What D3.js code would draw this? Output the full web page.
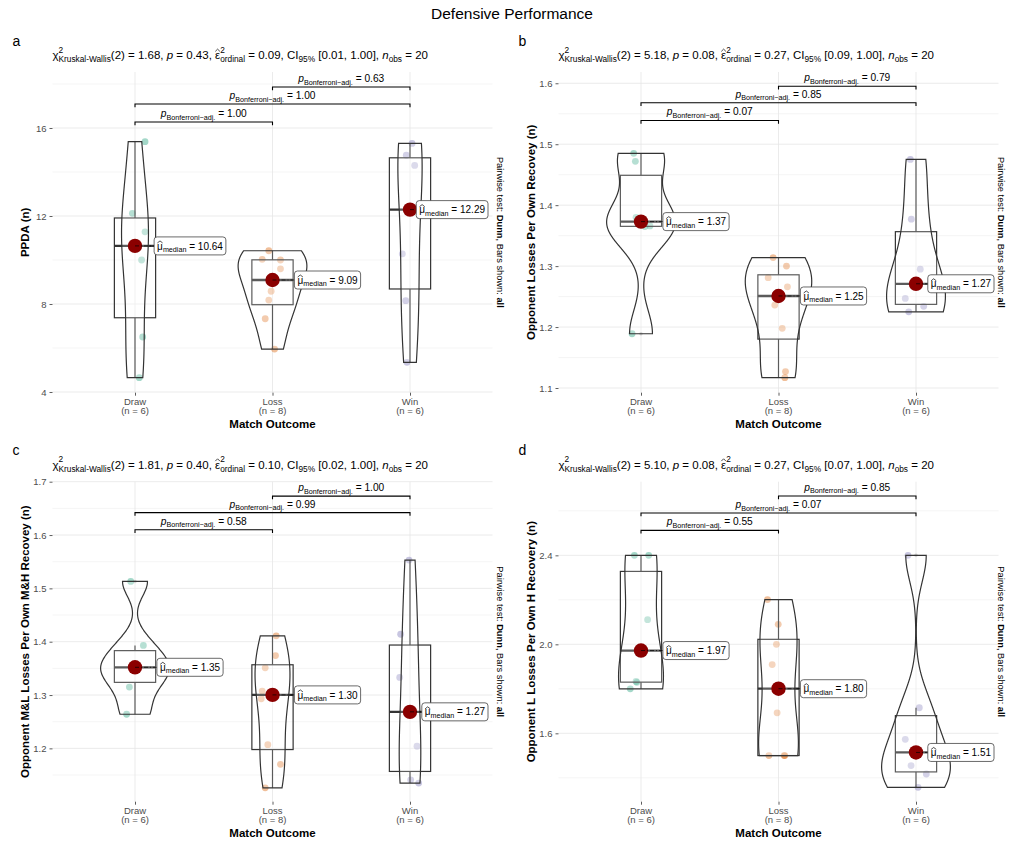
<!DOCTYPE html>
<html>
<head>
<meta charset="utf-8">
<script src="https://cdn.jsdelivr.net/npm/d3@7"></script>
<style>
  body { margin: 0; background: #fff; }
  svg { display: block; }
  text { white-space: pre; }
</style>
</head>
<body>
<svg id="chart" width="1024" height="853"></svg>
<script>
// categories and group values
const categories = ['Draw', 'Loss', 'Win'];

const ppdaDraw = [15.38, 12.12, 11.28, 10.00, 6.50, 4.65];
const ppdaLoss = [10.42, 10.03, 10.00, 9.60, 8.58, 8.18, 7.33, 5.95];
const ppdaWin = [15.30, 14.76, 14.30, 10.28, 8.15, 5.35];

const recDraw = [1.485, 1.472, 1.380, 1.366, 1.365, 1.189];
const recLoss = [1.314, 1.300, 1.281, 1.266, 1.236, 1.198, 1.127, 1.117];
const recWin = [1.475, 1.377, 1.295, 1.247, 1.234, 1.225];

const mlDraw = [1.513, 1.393, 1.354, 1.350, 1.315, 1.264];
const mlLoss = [1.411, 1.374, 1.351, 1.3075, 1.293, 1.207, 1.170, 1.126];
const mlWin = [1.553, 1.414, 1.333, 1.204, 1.141, 1.135];

const lDraw = [2.40, 2.40, 2.111, 1.833, 1.829, 1.800];
const lLoss = [2.201, 2.09, 2.00, 1.909, 1.692, 1.50, 1.50, 1.50];
const lWin = [2.40, 1.715, 1.573, 1.455, 1.417, 1.357];

// jitter of each point, in category steps (same order as the values)
const jitA = [[0.073, -0.019, 0.073, 0.048, 0.056, 0.031],
              [-0.027, -0.075, 0.058, 0.058, -0.01, -0.027, -0.053, 0.015],
              [0.015, -0.027, 0.034, -0.056, -0.031, -0.022]];
const jitB = [[-0.053, -0.041, -0.036, 0.065, 0.029, -0.065],
              [-0.039, 0.058, -0.075, 0.065, -0.027, 0.027, 0.051, 0.046],
              [-0.041, -0.034, 0.031, -0.078, 0.056, -0.053]];
const jitC = [[-0.031, 0.061, 0.022, -0.015, -0.041, -0.061],
              [0.027, 0.022, -0.053, -0.075, -0.082, -0.034, 0.058, -0.053],
              [-0.007, -0.068, -0.075, 0.051, 0.005, 0.063]];
const jitD = [[-0.048, 0.056, 0.048, -0.036, -0.03, -0.078],
              [-0.08, -0.002, -0.015, -0.046, -0.01, -0.07, 0.046, 0.041],
              [-0.058, 0.024, -0.078, -0.036, 0.075, 0.015]];

// test results
const chiVals = ['1.68', '5.18', '1.81', '5.10'];
const pVals = ['0.43', '0.08', '0.40', '0.08'];
const epsVals = ['0.09', '0.27', '0.10', '0.27'];
const ciVals = ['[0.01, 1.00]', '[0.09, 1.00]', '[0.02, 1.00]', '[0.07, 1.00]'];
// pairwise p: Draw-Loss, Draw-Win, Loss-Win
const pairP = [['1.00', '1.00', '0.63'], ['0.07', '0.85', '0.79'],
               ['0.58', '0.99', '1.00'], ['0.55', '0.07', '0.85']];
const pairs = [['Draw', 'Loss'], ['Draw', 'Win'], ['Loss', 'Win']];

const yTitles = ['PPDA (n)', 'Opponent Losses Per Own Recovey (n)',
                 'Opponent M&L Losses Per Own M&H Recovey (n)', 'Opponent L Losses Per Own H Recovery (n)'];
const majorTicks = [[4, 8, 12, 16], [1.1, 1.2, 1.3, 1.4, 1.5, 1.6],
                    [1.2, 1.3, 1.4, 1.5, 1.6, 1.7], [1.6, 2.0, 2.4]];
const minorTicks = [[6, 10, 14, 18], [1.15, 1.25, 1.35, 1.45, 1.55],
                    [1.15, 1.25, 1.35, 1.45, 1.55, 1.65], [1.4, 1.8, 2.2, 2.6]];
const tickFmt = ['d', '.1f', '.1f', '.1f'];

// layout
const panels = [
  { letter: 'a', groups: [ppdaDraw, ppdaLoss, ppdaWin], jit: jitA, L: 52.5, R: 492.5, T: 72, B: 392.7, dom: [3.968, 18.545], bars: [16.27, 17.09, 17.86], capX: 497 },
  { letter: 'b', groups: [recDraw, recLoss, recWin], jit: jitB, L: 558.5, R: 998.5, T: 72, B: 392.7, dom: [1.0923, 1.6185], bars: [1.539, 1.568, 1.595], capX: 997.5 },
  { letter: 'c', groups: [mlDraw, mlLoss, mlWin], jit: jitC, L: 52.5, R: 492.5, T: 481.7, B: 801.7, dom: [1.1, 1.7], bars: [1.610, 1.642, 1.673], capX: 497 },
  { letter: 'd', groups: [lDraw, lLoss, lWin], jit: jitD, L: 558.5, R: 998.5, T: 481.7, B: 801.7, dom: [1.2926, 2.731], bars: [2.512, 2.590, 2.667], capX: 997.5 }
];

const colors = ['#1B9E77', '#D95F02', '#7570B3'];
const font = "'Liberation Sans', Arial, Helvetica, sans-serif";
const ink = '#333333';

const svg = d3.select('#chart').attr('font-family', font);

// lay out a run of text pieces with sub/superscripts, measuring as it goes
function rich(parent, x, y, parts, anchor) {
  const outer = parent.append('g').attr('transform', `translate(${x},${y})`);
  const g = outer.append('g');
  let cx = 0, stackX = null, stackW = 0;
  parts.forEach(p => {
    const t = g.append('text').attr('x', cx).attr('y', p.dy || 0)
      .attr('font-size', p.s).attr('fill', '#000').text(p.t);
    if (p.it) t.attr('font-style', 'italic');
    if (p.b) t.attr('font-weight', 'bold');
    const w = t.node().getComputedTextLength();
    if (p.hat) {
      g.append('path')
        .attr('d', `M${cx + w * 0.05},${-p.s * 0.66} L${cx + w / 2},${-p.s * 0.86} L${cx + w * 0.95},${-p.s * 0.66}`)
        .attr('fill', 'none').attr('stroke', '#000').attr('stroke-width', 0.7);
    }
    if (p.stack) { stackX = cx; stackW = w; }
    else if (stackX !== null) { cx = stackX + Math.max(stackW, w); stackX = null; }
    else cx += w;
  });
  const shift = anchor === 'middle' ? -cx / 2 : anchor === 'end' ? -cx : 0;
  g.attr('transform', `translate(${shift},0)`);
  return { g: outer, w: cx, shift };
}

function bwNrd0(v) {
  const s = d3.deviation(v);
  const iqr = d3.quantile(v, 0.75) - d3.quantile(v, 0.25);
  let lo = Math.min(s, iqr / 1.34);
  if (!lo) lo = s || Math.abs(v[0]) || 1;
  return 0.9 * lo * Math.pow(v.length, -0.2);
}

function kde(v) {
  const bw = bwNrd0(v);
  const [lo, hi] = d3.extent(v);
  const n = 512;
  return d3.range(n).map(i => {
    const yy = lo + (hi - lo) * i / (n - 1);
    const dens = d3.sum(v, xi => Math.exp(-0.5 * ((yy - xi) / bw) ** 2)) / (v.length * bw * Math.sqrt(2 * Math.PI));
    return [yy, dens];
  });
}

// title
svg.append('text').attr('x', 512).attr('y', 18.5).attr('text-anchor', 'middle')
  .attr('font-size', 15.5).attr('fill', '#000').text('Defensive Performance');

panels.forEach((P, pi) => {
  const g = svg.append('g');
  const x = d3.scalePoint().domain(categories).range([P.L, P.R]).padding(0.6);
  const step = x.step();
  const y = d3.scaleLinear().domain(P.dom).range([P.B, P.T]);

  // grid
  g.selectAll('.minor').data(minorTicks[pi].filter(v => v <= P.dom[1])).join('line')
    .attr('x1', P.L).attr('x2', P.R).attr('y1', d => y(d)).attr('y2', d => y(d))
    .attr('stroke', '#F2F2F2').attr('stroke-width', 0.8);
  g.selectAll('.major').data(majorTicks[pi]).join('line')
    .attr('x1', P.L).attr('x2', P.R).attr('y1', d => y(d)).attr('y2', d => y(d))
    .attr('stroke', '#E6E6E6').attr('stroke-width', 0.8);
  g.selectAll('.vgrid').data(categories).join('line')
    .attr('x1', d => x(d)).attr('x2', d => x(d)).attr('y1', P.T).attr('y2', P.B)
    .attr('stroke', '#E6E6E6').attr('stroke-width', 0.8);

  // y axis
  const ya = g.append('g').attr('transform', `translate(${P.L},0)`)
    .call(d3.axisLeft(y).tickValues(majorTicks[pi]).tickSize(3).tickPadding(3).tickFormat(d3.format(tickFmt[pi])));
  ya.select('.domain').remove();
  ya.selectAll('line').attr('stroke', ink).attr('stroke-width', 0.8);
  ya.selectAll('text').attr('font-family', font).attr('font-size', 9.5).attr('fill', '#4D4D4D');

  // x axis ticks and labels
  const xa = g.append('g').attr('transform', `translate(0,${P.B})`)
    .call(d3.axisBottom(x).tickSize(3).tickFormat(''));
  xa.select('.domain').remove();
  xa.selectAll('line').attr('stroke', ink).attr('stroke-width', 0.8);
  categories.forEach((c, ci) => {
    const t = g.append('text').attr('text-anchor', 'middle').attr('font-size', 9.5).attr('fill', '#4D4D4D');
    t.append('tspan').attr('x', x(c)).attr('y', P.B + 12.3).text(c);
    t.append('tspan').attr('x', x(c)).attr('y', P.B + 21.6).text(`(n = ${P.groups[ci].length})`);
  });

  // axis titles
  g.append('text').attr('x', (P.L + P.R) / 2).attr('y', P.B + 35.4).attr('text-anchor', 'middle')
    .attr('font-size', 11.5).attr('font-weight', 'bold').text('Match Outcome');
  g.append('text').attr('transform', `translate(${P.L - 24},${(P.T + P.B) / 2}) rotate(-90)`)
    .attr('text-anchor', 'middle').attr('font-size', 11.5).attr('font-weight', 'bold').text(yTitles[pi]);

  // panel letter
  g.append('text').attr('x', P.L - 40).attr('y', P.T - 26.5).attr('font-size', 14).text(P.letter);

  // subtitle
  const nObs = d3.sum(P.groups, v => v.length);
  const S = 11.5, s = 8.3;
  rich(g, P.L, P.T - 13, [
    { t: 'χ', s: S },
    { t: '2', s: s, dy: -6.5, stack: true },
    { t: 'Kruskal-Wallis', s: s, dy: 3 },
    { t: `(2) = ${chiVals[pi]}, `, s: S },
    { t: 'p', s: S, it: true },
    { t: ` = ${pVals[pi]}, `, s: S },
    { t: 'ε', s: S, hat: true },
    { t: '2', s: s, dy: -6.5, stack: true },
    { t: 'ordinal', s: s, dy: 3 },
    { t: ` = ${epsVals[pi]}, CI`, s: S },
    { t: '95%', s: s, dy: 3 },
    { t: ` ${ciVals[pi]}, `, s: S },
    { t: 'n', s: S, it: true },
    { t: 'obs', s: s, dy: 3 },
    { t: ` = ${nObs}`, s: S }
  ], 'start');

  // right caption
  const cap = svg.append('g').attr('transform', `translate(${P.capX},${(P.T + P.B) / 2}) rotate(90)`);
  rich(cap, 0, 0, [
    { t: 'Pairwise test: ', s: 9.3 },
    { t: 'Dunn', s: 9.3, b: true },
    { t: ', Bars shown: ', s: 9.3 },
    { t: 'all', s: 9.3, b: true }
  ], 'middle');

  // group stats
  const dens = P.groups.map(kde);
  const maxD = d3.max(dens, d => d3.max(d, e => e[1]));

  // points (under box and violin, as in the reference)
  P.groups.forEach((v, ci) => {
    g.append('g').selectAll('circle').data(v).join('circle')
      .attr('cx', (d, i) => x(categories[ci]) + P.jit[ci][i] * step)
      .attr('cy', d => y(d)).attr('r', 3.4)
      .attr('fill', colors[ci]).attr('fill-opacity', 0.4);
  });

  // boxplots
  P.groups.forEach((v, ci) => {
    const cx = x(categories[ci]);
    const hw = 0.15 * step;
    const q1 = d3.quantile(v, 0.25), med = d3.quantile(v, 0.5), q3 = d3.quantile(v, 0.75);
    const iqr = q3 - q1;
    const inside = v.filter(d => d >= q1 - 1.5 * iqr && d <= q3 + 1.5 * iqr);
    const lowW = d3.min(inside), hiW = d3.max(inside);
    const outl = v.filter(d => d < q1 - 1.5 * iqr || d > q3 + 1.5 * iqr);
    const bg = g.append('g');
    bg.append('line').attr('x1', cx).attr('x2', cx).attr('y1', y(q3)).attr('y2', y(hiW))
      .attr('stroke', ink).attr('stroke-width', 1.2);
    bg.append('line').attr('x1', cx).attr('x2', cx).attr('y1', y(q1)).attr('y2', y(lowW))
      .attr('stroke', ink).attr('stroke-width', 1.2);
    bg.append('rect').attr('x', cx - hw).attr('width', 2 * hw).attr('y', y(q3)).attr('height', y(q1) - y(q3))
      .attr('fill', '#fff').attr('fill-opacity', 0.2).attr('stroke', ink).attr('stroke-width', 1.2);
    bg.append('line').attr('x1', cx - hw).attr('x2', cx + hw).attr('y1', y(med)).attr('y2', y(med))
      .attr('stroke', ink).attr('stroke-width', 2.3);
    bg.selectAll('.out').data(outl).join('circle').attr('cx', cx).attr('cy', d => y(d)).attr('r', 1.8)
      .attr('fill', ink).attr('fill-opacity', 0.2);
  });

  // violins
  P.groups.forEach((v, ci) => {
    const cx = x(categories[ci]);
    const d = dens[ci];
    const half = e => 0.25 * step * e[1] / maxD;
    const right = d.map(e => [cx + half(e), y(e[0])]);
    const left = d.slice().reverse().map(e => [cx - half(e), y(e[0])]);
    g.append('path').attr('d', d3.line()(right.concat(left)) + 'Z')
      .attr('fill', '#fff').attr('fill-opacity', 0.2).attr('stroke', ink).attr('stroke-width', 1.2);
  });

  // medians with labels (nudged right, kept inside the panel)
  P.groups.forEach((v, ci) => {
    const cx = x(categories[ci]);
    const med = d3.median(v);
    g.append('circle').attr('cx', cx).attr('cy', y(med)).attr('r', 7.2).attr('fill', '#8B0000');
    const lab = rich(g, 0, y(med) + 3.6, [
      { t: 'μ', s: 10, hat: true },
      { t: 'median', s: 7.2, dy: 2.5 },
      { t: ` = ${med.toFixed(2)}`, s: 10 }
    ], 'middle');
    const bw = lab.w + 6, bh = 18;
    const lx = Math.min(cx + 0.4 * step, P.R - 4.5 - bw / 2);
    lab.g.attr('transform', `translate(${lx},${y(med) + 3.6})`);
    g.insert('line', () => lab.g.node())
      .attr('x1', cx).attr('x2', lx - bw / 2).attr('y1', y(med)).attr('y2', y(med))
      .attr('stroke', '#000').attr('stroke-width', 0.7).attr('stroke-dasharray', '4,2,1,2');
    g.insert('rect', () => lab.g.node())
      .attr('x', lx - bw / 2).attr('y', y(med) - bh / 2).attr('width', bw).attr('height', bh)
      .attr('rx', 3).attr('fill', '#fff').attr('stroke', '#444').attr('stroke-width', 0.8);
  });

  // pairwise comparison bars
  pairs.forEach((pr, k) => {
    const x1 = x(pr[0]), x2 = x(pr[1]), yy = y(P.bars[k]);
    const tip = 0.01 * (P.B - P.T);
    g.append('path').attr('d', `M${x1},${yy + tip} V${yy} H${x2} V${yy + tip}`)
      .attr('fill', 'none').attr('stroke', '#000').attr('stroke-width', 1.1);
    rich(g, (x1 + x2) / 2, yy - 5, [
      { t: 'p', s: 10.2, it: true },
      { t: 'Bonferroni−adj.', s: 7.2, dy: 2.5 },
      { t: ` = ${pairP[pi][k]}`, s: 10.2 }
    ], 'middle');
  });
});
</script>
</body>
</html>
